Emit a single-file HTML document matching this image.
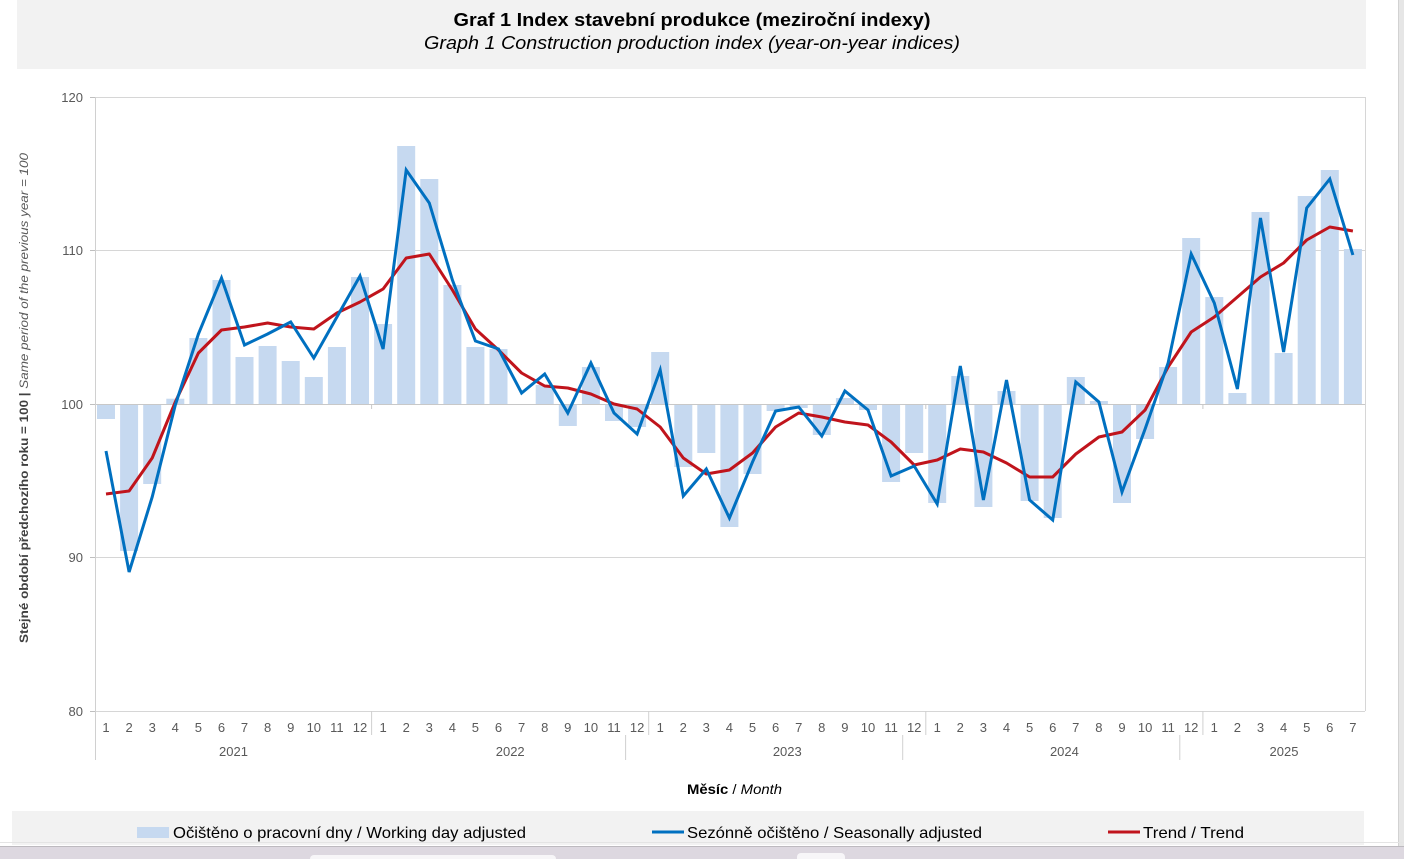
<!DOCTYPE html>
<html><head><meta charset="utf-8"><style>
html,body{margin:0;padding:0;background:#fff;}
body{width:1404px;height:859px;overflow:hidden;}
svg{display:block;font-family:"Liberation Sans",Arial,sans-serif;}
</style></head><body>
<svg width="1404" height="859" viewBox="0 0 1404 859" xmlns="http://www.w3.org/2000/svg">
<rect x="0" y="0" width="1404" height="859" fill="#fff"/>
<!-- title -->
<rect x="17" y="0" width="1349" height="69" fill="#f2f2f2"/>
<text x="692" y="26" text-anchor="middle" font-size="18" font-weight="bold" fill="#000" textLength="477" lengthAdjust="spacingAndGlyphs">Graf 1 Index stavební produkce (meziroční indexy)</text>
<text x="692" y="49" text-anchor="middle" font-size="18" font-style="italic" fill="#000" textLength="536" lengthAdjust="spacingAndGlyphs">Graph 1 Construction production index (year-on-year indices)</text>

<!-- gridlines -->
<g stroke="#d6d6d6" stroke-width="1">
<line x1="95" y1="97.5" x2="1365" y2="97.5"/>
<line x1="95" y1="250.5" x2="1365" y2="250.5"/>
<line x1="95" y1="557.5" x2="1365" y2="557.5"/>
<line x1="95" y1="711.5" x2="1365" y2="711.5"/>
<line x1="1365.5" y1="97" x2="1365.5" y2="711"/>
</g>
<!-- y ticks -->
<g stroke="#bfbfbf" stroke-width="1">
<line x1="90" y1="97.5" x2="95" y2="97.5"/>
<line x1="90" y1="250.5" x2="95" y2="250.5"/>
<line x1="90" y1="404.5" x2="95" y2="404.5"/>
<line x1="90" y1="557.5" x2="95" y2="557.5"/>
<line x1="90" y1="711.5" x2="95" y2="711.5"/>
</g>
<g font-size="13" fill="#595959" text-anchor="end">
<text x="83" y="102">120</text>
<text x="83" y="255">110</text>
<text x="83" y="409">100</text>
<text x="83" y="562">90</text>
<text x="83" y="716">80</text>
</g>
<!-- y axis title -->
<text transform="translate(28,643) rotate(-90)" font-size="12" fill="#404040" textLength="490" lengthAdjust="spacingAndGlyphs"><tspan font-weight="bold">Stejné období předchozího roku = 100 | </tspan><tspan font-style="italic" fill="#595959">Same period of  the previous year = 100</tspan></text>

<!-- bars -->
<g fill="#c6d9f0">
<rect x="97.0" y="404" width="18" height="15"/>
<rect x="120.1" y="404" width="18" height="147"/>
<rect x="143.2" y="404" width="18" height="80"/>
<rect x="166.3" y="398.7" width="18" height="5.3"/>
<rect x="189.4" y="338" width="18" height="66"/>
<rect x="212.5" y="280" width="18" height="124"/>
<rect x="235.5" y="357" width="18" height="47"/>
<rect x="258.6" y="346" width="18" height="58"/>
<rect x="281.7" y="361" width="18" height="43"/>
<rect x="304.8" y="377" width="18" height="27"/>
<rect x="327.9" y="347" width="18" height="57"/>
<rect x="351.0" y="277" width="18" height="127"/>
<rect x="374.1" y="324" width="18" height="80"/>
<rect x="397.2" y="146" width="18" height="258"/>
<rect x="420.3" y="179" width="18" height="225"/>
<rect x="443.4" y="285" width="18" height="119"/>
<rect x="466.4" y="347" width="18" height="57"/>
<rect x="489.5" y="349" width="18" height="55"/>
<rect x="535.7" y="385" width="18" height="19"/>
<rect x="558.8" y="404" width="18" height="22"/>
<rect x="581.9" y="367" width="18" height="37"/>
<rect x="605.0" y="404" width="18" height="17"/>
<rect x="628.1" y="404" width="18" height="23"/>
<rect x="651.2" y="352" width="18" height="52"/>
<rect x="674.3" y="404" width="18" height="63"/>
<rect x="697.3" y="404" width="18" height="49"/>
<rect x="720.4" y="404" width="18" height="123"/>
<rect x="743.5" y="404" width="18" height="70"/>
<rect x="766.6" y="404" width="18" height="7"/>
<rect x="789.7" y="404" width="18" height="4"/>
<rect x="812.8" y="404" width="18" height="31"/>
<rect x="835.9" y="398" width="18" height="6"/>
<rect x="859.0" y="404" width="18" height="6"/>
<rect x="882.1" y="404" width="18" height="78"/>
<rect x="905.2" y="404" width="18" height="49"/>
<rect x="928.2" y="404" width="18" height="99"/>
<rect x="951.3" y="376" width="18" height="28"/>
<rect x="974.4" y="404" width="18" height="103"/>
<rect x="997.5" y="391" width="18" height="13"/>
<rect x="1020.6" y="404" width="18" height="97"/>
<rect x="1043.7" y="404" width="18" height="114"/>
<rect x="1066.8" y="377" width="18" height="27"/>
<rect x="1089.9" y="401" width="18" height="3"/>
<rect x="1113.0" y="404" width="18" height="99"/>
<rect x="1136.1" y="404" width="18" height="35"/>
<rect x="1159.1" y="367" width="18" height="37"/>
<rect x="1182.2" y="238" width="18" height="166"/>
<rect x="1205.3" y="297" width="18" height="107"/>
<rect x="1228.4" y="393" width="18" height="11"/>
<rect x="1251.5" y="212" width="18" height="192"/>
<rect x="1274.6" y="353" width="18" height="51"/>
<rect x="1297.7" y="196" width="18" height="208"/>
<rect x="1320.8" y="170" width="18" height="234"/>
<rect x="1343.9" y="249" width="18" height="155"/>
</g>

<!-- 100 line (axis) -->
<line x1="95" y1="404.5" x2="1365" y2="404.5" stroke="#c8c8c8" stroke-width="1"/>
<g stroke="#c8c8c8" stroke-width="1">
<line x1="371.6" y1="404" x2="371.6" y2="409"/>
<line x1="648.7" y1="404" x2="648.7" y2="409"/>
<line x1="925.8" y1="404" x2="925.8" y2="409"/>
<line x1="1202.9" y1="404" x2="1202.9" y2="409"/>
</g>

<!-- trend -->
<polyline fill="none" stroke="#c0141c" stroke-width="3" stroke-linejoin="round" points="106.0,494 129.1,491 152.2,458 175.3,402 198.4,353 221.5,330 244.5,327 267.6,323 290.7,327 313.8,329 336.9,313 360.0,302 383.1,289 406.2,258 429.3,254 452.4,290 475.4,329 498.5,350 521.6,373 544.7,386 567.8,388 590.9,394 614.0,404 637.1,409 660.2,427 683.3,458 706.3,474 729.4,470 752.5,453 775.6,427 798.7,413 821.8,417 844.9,422 868.0,425 891.1,442 914.2,465 937.2,460 960.3,449 983.4,452 1006.5,463 1029.6,477 1052.7,477 1075.8,454 1098.9,437 1122.0,432 1145.1,410 1168.1,367 1191.2,332 1214.3,317 1237.4,297 1260.5,277 1283.6,263 1306.7,240 1329.8,227 1352.9,231"/>
<!-- seasonally adjusted -->
<polyline fill="none" stroke="#0070c0" stroke-width="3" stroke-linejoin="miter" stroke-miterlimit="4" points="106.0,451 129.1,572 152.2,497 175.3,405 198.4,334 221.5,278 244.5,345 267.6,334 290.7,322 313.8,358 336.9,317 360.0,276 383.1,349 406.2,170 429.3,203 452.4,280 475.4,341 498.5,349 521.6,393 544.7,374 567.8,413 590.9,363 614.0,413 637.1,434 660.2,370 683.3,496 706.3,469 729.4,518 752.5,462 775.6,411 798.7,407 821.8,436 844.9,391 868.0,410 891.1,476 914.2,466 937.2,504 960.3,366 983.4,500 1006.5,380 1029.6,500 1052.7,520 1075.8,382 1098.9,402 1122.0,492 1145.1,429 1168.1,363 1191.2,254 1214.3,303 1237.4,389 1260.5,218 1283.6,352 1306.7,208 1329.8,179 1352.9,255"/>

<!-- left axis & category separators -->
<g stroke="#d0d0d0" stroke-width="1">
<line x1="95.5" y1="97" x2="95.5" y2="760"/>
<line x1="371.6" y1="711" x2="371.6" y2="735"/>
<line x1="648.7" y1="711" x2="648.7" y2="735"/>
<line x1="925.8" y1="711" x2="925.8" y2="735"/>
<line x1="1202.9" y1="711" x2="1202.9" y2="735"/>
<line x1="625.6" y1="735" x2="625.6" y2="760"/>
<line x1="902.7" y1="735" x2="902.7" y2="760"/>
<line x1="1179.8" y1="735" x2="1179.8" y2="760"/>
</g>

<!-- month labels -->
<g font-size="13" fill="#595959" text-anchor="middle">
<text x="106.0" y="732">1</text><text x="129.1" y="732">2</text><text x="152.2" y="732">3</text><text x="175.3" y="732">4</text><text x="198.4" y="732">5</text><text x="221.5" y="732">6</text><text x="244.5" y="732">7</text><text x="267.6" y="732">8</text><text x="290.7" y="732">9</text><text x="313.8" y="732">10</text><text x="336.9" y="732">11</text><text x="360.0" y="732">12</text>
<text x="383.1" y="732">1</text><text x="406.2" y="732">2</text><text x="429.3" y="732">3</text><text x="452.4" y="732">4</text><text x="475.4" y="732">5</text><text x="498.5" y="732">6</text><text x="521.6" y="732">7</text><text x="544.7" y="732">8</text><text x="567.8" y="732">9</text><text x="590.9" y="732">10</text><text x="614.0" y="732">11</text><text x="637.1" y="732">12</text>
<text x="660.2" y="732">1</text><text x="683.3" y="732">2</text><text x="706.3" y="732">3</text><text x="729.4" y="732">4</text><text x="752.5" y="732">5</text><text x="775.6" y="732">6</text><text x="798.7" y="732">7</text><text x="821.8" y="732">8</text><text x="844.9" y="732">9</text><text x="868.0" y="732">10</text><text x="891.1" y="732">11</text><text x="914.2" y="732">12</text>
<text x="937.2" y="732">1</text><text x="960.3" y="732">2</text><text x="983.4" y="732">3</text><text x="1006.5" y="732">4</text><text x="1029.6" y="732">5</text><text x="1052.7" y="732">6</text><text x="1075.8" y="732">7</text><text x="1098.9" y="732">8</text><text x="1122.0" y="732">9</text><text x="1145.1" y="732">10</text><text x="1168.1" y="732">11</text><text x="1191.2" y="732">12</text>
<text x="1214.3" y="732">1</text><text x="1237.4" y="732">2</text><text x="1260.5" y="732">3</text><text x="1283.6" y="732">4</text><text x="1306.7" y="732">5</text><text x="1329.8" y="732">6</text><text x="1352.9" y="732">7</text>
<text x="233.5" y="756">2021</text>
<text x="510.2" y="756">2022</text>
<text x="787.3" y="756">2023</text>
<text x="1064.4" y="756">2024</text>
<text x="1284.0" y="756">2025</text>
</g>

<!-- x axis title -->
<text x="687" y="794" font-size="14" fill="#000" textLength="95" lengthAdjust="spacingAndGlyphs"><tspan font-weight="bold">Měsíc</tspan> / <tspan font-style="italic">Month</tspan></text>

<!-- legend -->
<rect x="12" y="811" width="1352" height="34" fill="#f2f2f2"/>
<rect x="137" y="827" width="32" height="11" fill="#c6d9f0"/>
<text x="173" y="838" font-size="16" fill="#000" textLength="353" lengthAdjust="spacingAndGlyphs">Očištěno o pracovní dny / Working day adjusted</text>
<line x1="652" y1="832" x2="684" y2="832" stroke="#0070c0" stroke-width="3"/>
<text x="687" y="838" font-size="16" fill="#000" textLength="295" lengthAdjust="spacingAndGlyphs">Sezónně očištěno / Seasonally adjusted</text>
<line x1="1108" y1="832" x2="1140" y2="832" stroke="#c0141c" stroke-width="3"/>
<text x="1143" y="838" font-size="16" fill="#000" textLength="101" lengthAdjust="spacingAndGlyphs">Trend / Trend</text>

<!-- right scrollbar strip -->
<rect x="1398" y="0" width="6" height="846" fill="#e6e6e6"/>
<line x1="1398.5" y1="0" x2="1398.5" y2="846" stroke="#d2d2d2" stroke-width="1"/>
<!-- bottom browser strip -->
<line x1="0" y1="842.5" x2="1404" y2="842.5" stroke="#e4e4e4" stroke-width="1"/>
<rect x="0" y="846" width="1404" height="13" fill="#ddd8e0"/>
<line x1="0" y1="846.5" x2="1404" y2="846.5" stroke="#bdbabf" stroke-width="1"/>
<rect x="310" y="855" width="246" height="10" rx="4" fill="#f7f6f8"/>
<rect x="797" y="853" width="48" height="12" rx="4" fill="#f7f6f8"/>
</svg>
</body></html>
